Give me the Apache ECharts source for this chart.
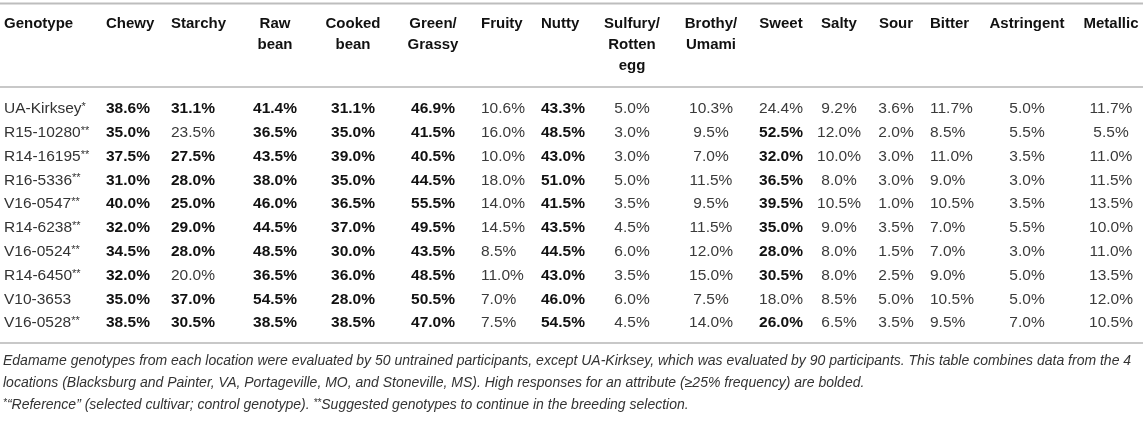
<!DOCTYPE html>
<html>
<head>
  <meta charset="UTF-8">
  <title>Edamame sensory attributes</title>
  <style>
    html, body {
      margin: 0;
      padding: 0;
      background: #fff;
    }

    #main {
      width: 1143px;
      height: 435px;
    }
  </style>
  <script src="https://cdn.jsdelivr.net/npm/echarts@6/dist/echarts.min.js"></script>
</head>

<body>
<div id="main"></div>

<script type="text/javascript">
  // table content
  const firstHeader = 'Genotype';
  const attributes = ['Chewy', 'Starchy', 'Raw\nbean', 'Cooked\nbean', 'Green/\nGrassy', 'Fruity', 'Nutty',
    'Sulfury/\nRotten\negg', 'Brothy/\nUmami', 'Sweet', 'Salty', 'Sour', 'Bitter', 'Astringent', 'Metallic'];
  const genotypes = ['UA-Kirksey*', 'R15-10280**', 'R14-16195**', 'R16-5336**', 'V16-0547**',
    'R14-6238**', 'V16-0524**', 'R14-6450**', 'V10-3653', 'V16-0528**'];

  // % frequency per attribute, in genotype order
  const chewy      = [38.6, 35.0, 37.5, 31.0, 40.0, 32.0, 34.5, 32.0, 35.0, 38.5];
  const starchy    = [31.1, 23.5, 27.5, 28.0, 25.0, 29.0, 28.0, 20.0, 37.0, 30.5];
  const rawBean    = [41.4, 36.5, 43.5, 38.0, 46.0, 44.5, 48.5, 36.5, 54.5, 38.5];
  const cookedBean = [31.1, 35.0, 39.0, 35.0, 36.5, 37.0, 30.0, 36.0, 28.0, 38.5];
  const green      = [46.9, 41.5, 40.5, 44.5, 55.5, 49.5, 43.5, 48.5, 50.5, 47.0];
  const fruity     = [10.6, 16.0, 10.0, 18.0, 14.0, 14.5, 8.5, 11.0, 7.0, 7.5];
  const nutty      = [43.3, 48.5, 43.0, 51.0, 41.5, 43.5, 44.5, 43.0, 46.0, 54.5];
  const sulfury    = [5.0, 3.0, 3.0, 5.0, 3.5, 4.5, 6.0, 3.5, 6.0, 4.5];
  const brothy     = [10.3, 9.5, 7.0, 11.5, 9.5, 11.5, 12.0, 15.0, 7.5, 14.0];
  const sweet      = [24.4, 52.5, 32.0, 36.5, 39.5, 35.0, 28.0, 30.5, 18.0, 26.0];
  const salty      = [9.2, 12.0, 10.0, 8.0, 10.5, 9.0, 8.0, 8.0, 8.5, 6.5];
  const sour       = [3.6, 2.0, 3.0, 3.0, 1.0, 3.5, 1.5, 2.5, 5.0, 3.5];
  const bitter     = [11.7, 8.5, 11.0, 9.0, 10.5, 7.0, 7.0, 9.0, 10.5, 9.5];
  const astringent = [5.0, 5.5, 3.5, 3.0, 3.5, 5.5, 3.0, 5.0, 5.0, 7.0];
  const metallic   = [11.7, 5.5, 11.0, 11.5, 13.5, 10.0, 11.0, 13.5, 12.0, 10.5];

  const columns = [chewy, starchy, rawBean, cookedBean, green, fruity, nutty, sulfury,
    brothy, sweet, salty, sour, bitter, astringent, metallic];

  const boldFrom = 25; // high responses (>= 25%) are bolded

  const notes = [
    'Edamame genotypes from each location were evaluated by 50 untrained participants, except UA-Kirksey, which was evaluated by 90 participants. This table combines data from the 4',
    'locations (Blacksburg and Painter, VA, Portageville, MO, and Stoneville, MS). High responses for an attribute (≥25% frequency) are bolded.',
    '{s|*}“Reference” (selected cultivar; control genotype). {s|**}Suggested genotypes to continue in the breeding selection.'
  ];

  // column anchors (px) and alignment
  const colLayout = [
    { x: 106, align: 'left' },
    { x: 171, align: 'left' },
    { x: 275, align: 'center' },
    { x: 353, align: 'center' },
    { x: 433, align: 'center' },
    { x: 481, align: 'left' },
    { x: 541, align: 'left' },
    { x: 632, align: 'center' },
    { x: 711, align: 'center' },
    { x: 781, align: 'center' },
    { x: 839, align: 'center' },
    { x: 896, align: 'center' },
    { x: 930, align: 'left' },
    { x: 1027, align: 'center' },
    { x: 1111, align: 'center' }
  ];
  const headLayout = [{ x: 4, align: 'left' }].concat(colLayout);
  const headers = [firstHeader].concat(attributes);

  const FONT = '"Liberation Sans", Arial, Helvetica, sans-serif';
  const W = 1143;

  const cellData = [];
  columns.forEach(function (vals, j) {
    vals.forEach(function (v, i) {
      cellData.push([colLayout[j].x, i, v, j]);
    });
  });
  const headData = headers.map(function (h, j) {
    return [headLayout[j].x, 0, j];
  });

  const myChart = echarts.init(document.getElementById('main'), null, { renderer: 'canvas' });

  const option = {
    animation: false,
    grid: [
      { left: 0, right: 0, top: 97, height: 238 },  // body rows
      { left: 0, right: 0, top: 12, height: 2 }     // header row
    ],
    xAxis: [
      { gridIndex: 0, type: 'value', min: 0, max: W, show: false },
      { gridIndex: 1, type: 'value', min: 0, max: W, show: false }
    ],
    yAxis: [
      {
        gridIndex: 0,
        type: 'category',
        inverse: true,
        data: genotypes,
        axisLine: { show: false },
        axisTick: { show: false },
        splitLine: { show: false },
        axisLabel: {
          inside: true,
          margin: 4,
          fontFamily: FONT,
          fontSize: 15.5,
          color: '#333',
          formatter: function (name) {
            const m = name.match(/^(.*?)(\**)$/);
            return m[2] ? m[1] + '{s|' + m[2] + '}' : m[1];
          },
          rich: {
            s: { fontFamily: FONT, fontSize: 11, color: '#333', padding: [0, 0, 4, 0] }
          }
        }
      },
      { gridIndex: 1, type: 'category', data: ['head'], show: false }
    ],
    series: [
      {
        type: 'custom',
        name: 'cells',
        xAxisIndex: 0,
        yAxisIndex: 0,
        data: cellData,
        renderItem: function (params, api) {
          const j = api.value(3);
          const v = api.value(2);
          const p = api.coord([api.value(0), api.value(1)]);
          const bold = v >= boldFrom;
          return {
            type: 'text',
            x: p[0],
            y: p[1],
            style: {
              text: v.toFixed(1) + '%',
              align: colLayout[j].align,
              verticalAlign: 'middle',
              fontFamily: FONT,
              fontSize: 15.5,
              fontWeight: bold ? 'bold' : 'normal',
              fill: bold ? '#111' : '#3a3a3a'
            }
          };
        }
      },
      {
        type: 'custom',
        name: 'headers',
        xAxisIndex: 1,
        yAxisIndex: 1,
        data: headData,
        renderItem: function (params, api) {
          const j = api.value(2);
          const p = api.coord([api.value(0), api.value(1)]);
          return {
            type: 'text',
            x: p[0],
            y: p[1],
            style: {
              text: headers[j],
              align: headLayout[j].align,
              verticalAlign: 'top',
              lineHeight: 21,
              fontFamily: FONT,
              fontSize: 15,
              fontWeight: 'bold',
              fill: '#111'
            }
          };
        }
      }
    ],
    graphic: [
      // table rules
      { type: 'line', shape: { x1: 0, y1: 3.5, x2: W, y2: 3.5 }, style: { stroke: '#bdbdbd', lineWidth: 2 } },
      { type: 'line', shape: { x1: 0, y1: 87, x2: W, y2: 87 }, style: { stroke: '#c8c8c8', lineWidth: 2 } },
      { type: 'line', shape: { x1: 0, y1: 343, x2: W, y2: 343 }, style: { stroke: '#c8c8c8', lineWidth: 2 } }
    ].concat(notes.map(function (t, k) {
      return {
        type: 'text',
        left: 3,
        top: 354 + k * 22,
        style: {
          text: t,
          fontFamily: FONT,
          fontSize: 14,
          fontStyle: 'italic',
          fill: '#333',
          rich: {
            s: { fontFamily: FONT, fontSize: 10, fontStyle: 'italic', fill: '#333', padding: [0, 0, 4, 0] }
          }
        }
      };
    }))
  };

  myChart.setOption(option);
</script>
</body>
</html>
